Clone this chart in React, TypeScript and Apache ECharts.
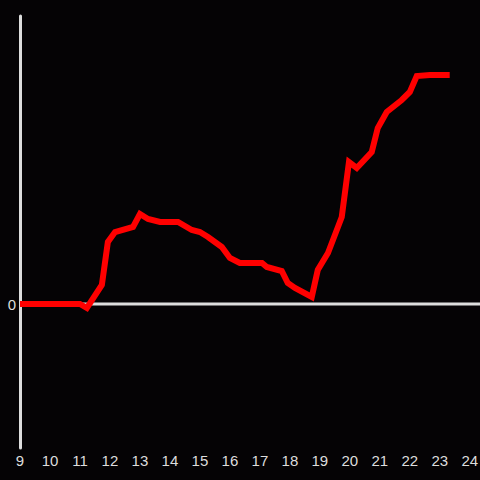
import React, { useEffect, useRef } from "react";
import * as echarts from "echarts";

const hours: number[] = [9, 11.0, 11.23, 11.73, 11.93, 12.17, 12.77, 13.0, 13.27, 13.67, 14.27, 14.73, 15.0, 15.27, 15.73, 16.0, 16.33, 17.07, 17.23, 17.73, 17.93, 18.17, 18.73, 18.93, 19.27, 19.73, 19.97, 20.23, 20.73, 20.93, 21.23, 21.73, 22.0, 22.23, 22.67, 23.33];
const values: number[] = [0, 0, -0.4, 1.9, 6.2, 7.2, 7.7, 9.0, 8.5, 8.2, 8.2, 7.4, 7.2, 6.7, 5.7, 4.6, 4.1, 4.1, 3.7, 3.3, 2.1, 1.6, 0.7, 3.4, 5.1, 8.7, 14.2, 13.6, 15.2, 17.6, 19.2, 20.4, 21.2, 22.8, 22.9, 22.9];
const zeroLine: number[][] = [[9, 0], [24.34, 0]];

export default function App() {
  const ref = useRef<HTMLDivElement>(null);
  useEffect(() => {
    if (!ref.current) return;
    const chart = echarts.init(ref.current, undefined, { renderer: "svg" });
    chart.setOption({
      animation: false,
      backgroundColor: "#050305",
      grid: { left: 20, right: 0, top: 16, bottom: 32, containLabel: false, outerBoundsMode: "none" },
      xAxis: {
        type: "value",
        min: 9,
        max: 24.34,
        interval: 1,
        axisLine: { show: false },
        axisTick: { show: false },
        splitLine: { show: false },
        axisLabel: {
          color: "#dddddd",
          fontSize: 15,
          fontFamily: "Liberation Sans, Arial, sans-serif",
          margin: 5,
          showMaxLabel: false,
          formatter: (v: number) => (Math.abs(v - Math.round(v)) < 1e-6 ? String(Math.round(v)) : ""),
        },
      },
      yAxis: {
        type: "value",
        min: -14.4,
        max: 28.8,
        interval: 14.4,
        axisLine: { show: true, lineStyle: { color: "#dddddd", width: 3 } },
        axisTick: { show: false },
        splitLine: { show: false },
        axisLabel: {
          color: "#dddddd",
          fontSize: 15,
          fontFamily: "Liberation Sans, Arial, sans-serif",
          margin: 4,
          formatter: (v: number) => (Math.abs(v) < 1e-6 ? "0" : ""),
        },
      },
      series: [
        {
          type: "line",
          data: zeroLine,
          symbol: "none",
          silent: true,
          z: 1,
          lineStyle: { color: "#dddddd", width: 3 },
        },
        {
          type: "line",
          data: hours.map((h, i) => [h, values[i]]),
          symbol: "none",
          z: 2,
          lineStyle: { color: "#ff0000", width: 6, join: "miter" },
        },
      ],
    });
    return () => chart.dispose();
  }, []);
  return <div ref={ref} style={{ width: 480, height: 480, position: "fixed", left: 0, top: 0 }} />;
}
